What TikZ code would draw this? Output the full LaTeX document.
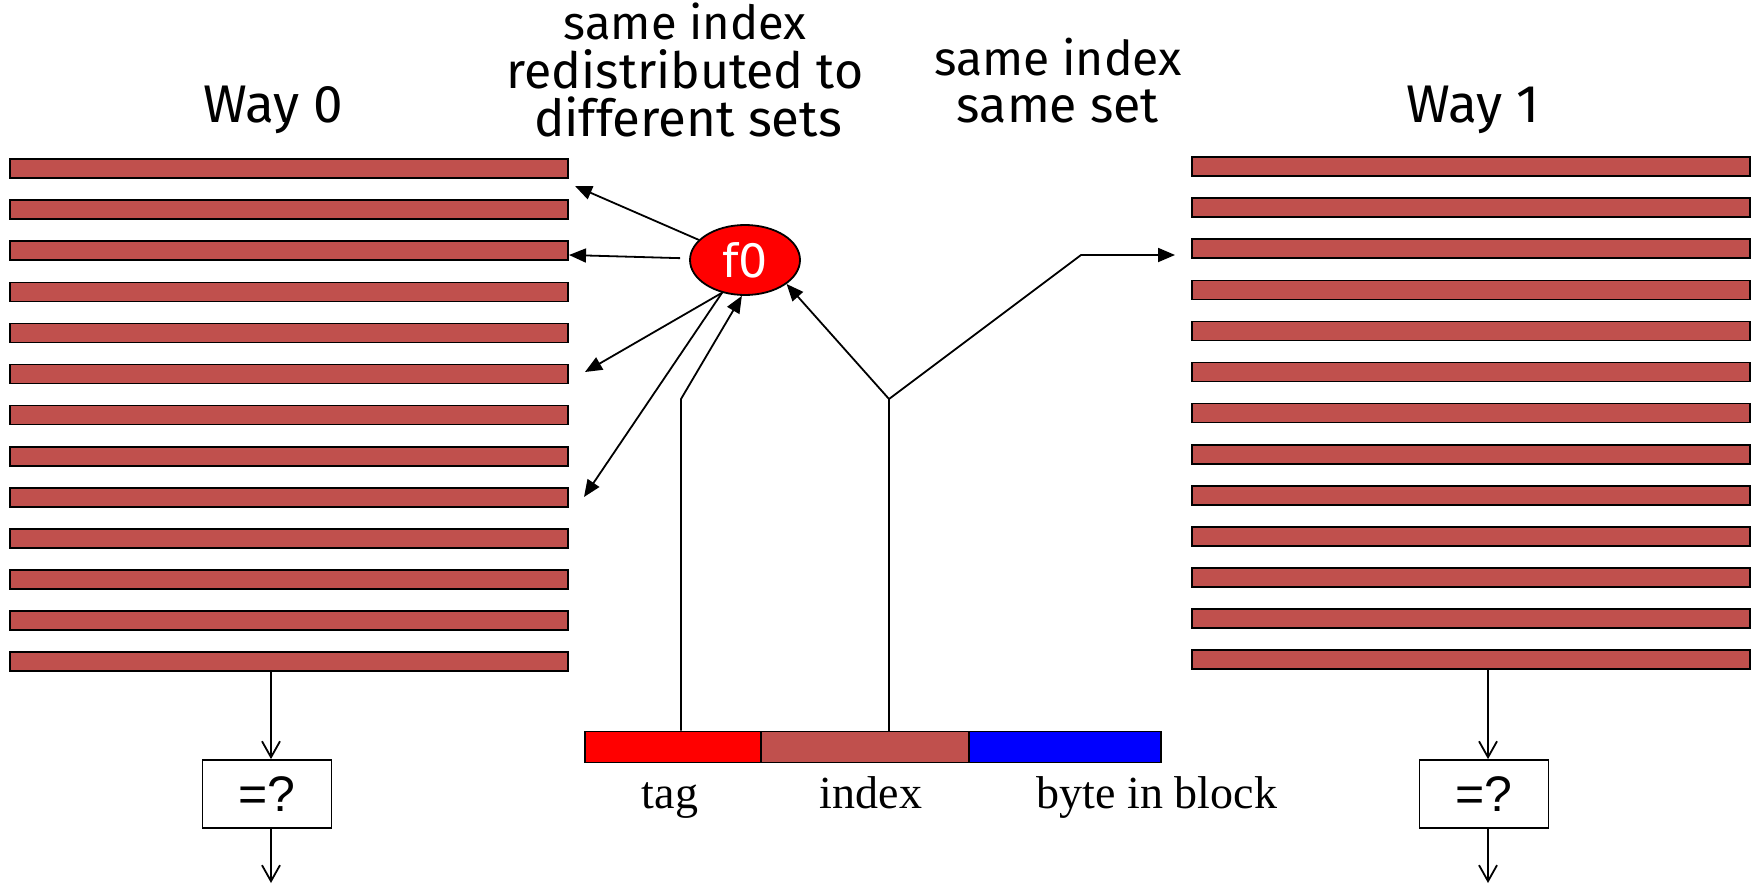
\documentclass[tikz,border=0pt]{standalone}
\usepackage{fontspec}
\setmainfont{Liberation Serif}
\newfontfamily\comicf{Fira Sans}
\newfontfamily\arialf{Liberation Sans}
\newfontfamily\fzf{DejaVu Sans}
\usetikzlibrary{arrows.meta,shapes.geometric}
\definecolor{barred}{HTML}{C0504D}
\begin{document}
\begin{tikzpicture}[x=1pt,y=-1pt,
  cbar/.style={draw=black,line width=1.6pt,fill=barred,minimum width=558pt,minimum height=19pt,inner sep=0pt,outer sep=0pt,anchor=north west},
  conn/.style={line width=1.8pt},
  arr/.style={conn,-{Triangle[length=17pt,width=14pt]}},
  varr/.style={conn,-{Straight Barb[length=16pt,width=18pt,line width=1.8pt]}},
  ttl/.style={font=\comicf\fontsize{48}{46}\selectfont,inner sep=0pt,anchor=base},
  lbl/.style={font=\fontsize{46}{50}\selectfont,inner sep=0pt,anchor=base},
  cmp/.style={draw,line width=1.8pt,minimum width=129pt,minimum height=68pt,inner sep=0pt,font=\arialf\fontsize{50}{50}\selectfont},
  fld/.style={draw,line width=1.8pt,minimum height=31pt,inner sep=0pt},
]
\useasboundingbox[fill=white] (0,0) rectangle (1760,883);

\foreach \i in {1,...,13}{
  \node[cbar] (L\i) at (10, {159+(\i-1)*41.1}) {};
  \node[cbar] (R\i) at (1192, {157+(\i-1)*41.1}) {};
}

\node[ttl,font=\comicf\fontsize{53}{46}\selectfont] (w0) at (273,122) {Way 0};
\node[ttl,font=\comicf\fontsize{53}{46}\selectfont] (w1) at (1473,122) {Way 1};
\node[ttl,font=\comicf\fontsize{47}{46}\selectfont] (ra) at (685,40) {same index};
\node[ttl,font=\comicf\fontsize{50}{46}\selectfont] (rb) at (685,88) {redistributed to};
\node[ttl,font=\comicf\fontsize{51}{46}\selectfont] (rc) at (688,136) {different sets};
\node[ttl] (sa) at (1058,75) {same index};
\node[ttl,font=\comicf\fontsize{50}{46}\selectfont] (sb) at (1058,122) {same set};

\node[ellipse,draw,line width=1.8pt,fill=red,minimum width=110pt,minimum height=70pt,inner sep=0pt,text=white,font=\fzf\fontsize{46}{50}\selectfont] (f0) at (745,260) {f0};

\node[fld,fill=red,minimum width=176pt] (tag) at (673,747) {};
\node[fld,fill=barred,minimum width=208pt] (idx) at (865,747) {};
\node[fld,fill=blue,minimum width=192pt] (byte) at (1065,747) {};

\node[lbl] (ltag) at (670,808) {tag};
\node[lbl] (lidx) at (871,808) {index};
\node[lbl] (lbyte) at (1157,808) {byte in block};

\node[cmp] (c0) at (267,794) {=?};
\node[cmp] (c1) at (1484,794) {=?};
\coordinate (k0) at (271,883);
\coordinate (k1) at (1488,883);
\draw[varr] (L13.south -| k0) -- (c0.north -| k0);
\draw[varr] (c0.south -| k0) -- (k0);
\draw[varr] (R13.south -| k1) -- (c1.north -| k1);
\draw[varr] (c1.south -| k1) -- (k1);

\coordinate (a1) at (575,186);
\coordinate (a2) at (569,255);
\coordinate (a3) at (585,372);
\coordinate (a4) at (584,497);
\draw[arr] (f0) -- (a1);
\draw[arr,shorten <=9pt] (f0) -- (a2);
\draw[arr] (f0.235) -- (a3);
\draw[arr] (f0.235) -- (a4);

\coordinate (tk) at (681,399);
\draw[arr] (tag.north -| tk) -- (tk) -- (f0.265);

\coordinate (ik) at (889,399);
\coordinate (rk) at (1081,255);
\coordinate (ra1) at (1175,255);
\draw[conn] (idx.north -| ik) -- (ik);
\draw[arr] (ik) -- (f0.-30);
\draw[arr] (ik) -- (rk) -- (ra1);
\end{tikzpicture}
\end{document}
